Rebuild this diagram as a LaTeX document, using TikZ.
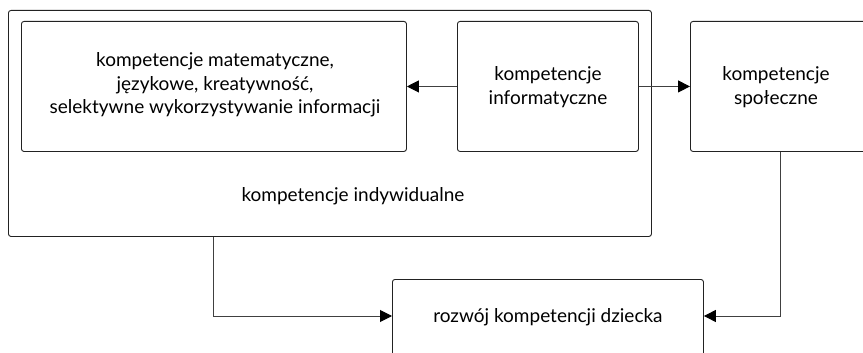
\documentclass[tikz,border=0pt]{standalone}
\usepackage{fontspec}
\setmainfont{Lato}
\usetikzlibrary{arrows.meta,positioning}
\definecolor{boxline}{HTML}{222222}
\definecolor{wire}{HTML}{404040}
\tikzset{
  block/.style={draw=boxline, line width=0.9pt, rounded corners=2.5pt, inner sep=0pt, anchor=north west},
  txt/.style={align=center, font=\fontsize{19}{23.5}\selectfont, text=black, inner sep=0pt},
  wireline/.style={draw=wire, line width=1pt, -{Triangle[length=12pt,width=12pt,color=black]}},
}
\begin{document}
\begin{tikzpicture}[x=1pt,y=-1pt]
\useasboundingbox[clip] (0,0) rectangle (863,353);
\fill[white] (0,0) rectangle (863,353);
% outer group of individual skills
\node[block, minimum width=643pt, minimum height=226pt] (indiv) at (8,10) {};
\node[txt] (indivtxt) at (353,196) {kompetencje indywidualne};
% inner boxes
\node[block, minimum width=385pt, minimum height=130pt] (mat) at (21,21) {};
\node[txt] (mattxt) at (215,85) {kompetencje matematyczne,\\językowe, kreatywność,\\selektywne wykorzystywanie informacji};
\node[block, minimum width=181pt, minimum height=130pt] (info) at (457,21) {};
\node[txt] (infotxt) at (548,87) {kompetencje\\informatyczne};
\node[block, minimum width=180pt, minimum height=130pt] (spol) at (690,21) {};
\node[txt] (spoltxt) at (776,87) {kompetencje\\społeczne};
% outcome
\node[block, minimum width=311pt, minimum height=110pt] (dev) at (392,279) {};
\node[txt] (devtxt) at (548,317) {rozwój kompetencji dziecka};
% connectors
\draw[wireline] (info.west) -- (mat.east);
\draw[wireline] (info.east) -- (info.east -| spol.west);
\draw[wireline] (indiv.south -| 213,0) |- (dev.west |- 0,316);
\draw[wireline] (spol.south -| 780,0) |- (dev.east |- 0,316);
\end{tikzpicture}
\end{document}
